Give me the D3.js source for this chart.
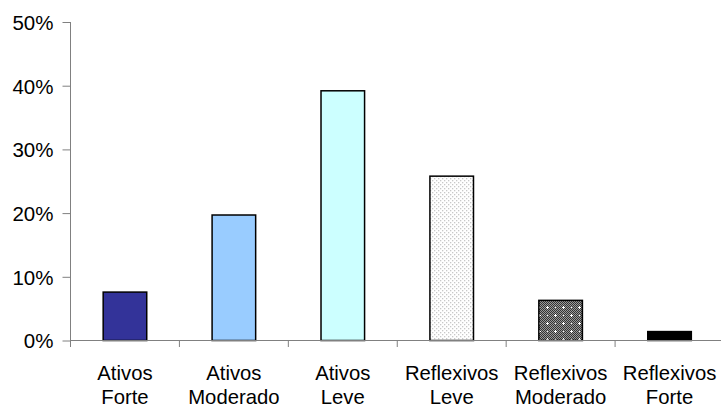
<!DOCTYPE html>
<html><head><meta charset="utf-8">
<script src="https://cdn.jsdelivr.net/npm/d3@7"></script>
<style>html,body{margin:0;padding:0;background:#fff;}svg{display:block;}</style>
</head><body>
<svg id="chart" width="721" height="409"></svg>
<script>
const categoriesLine1 = ["Ativos", "Ativos", "Ativos", "Reflexivos", "Reflexivos", "Reflexivos"];
const categoriesLine2 = ["Forte", "Moderado", "Leve", "Leve", "Moderado", "Forte"];
const values = [0.076, 0.197, 0.392, 0.258, 0.063, 0.014];
const yTicks = [0, 0.1, 0.2, 0.3, 0.4, 0.5];
const fills = ["#333399", "#99CCFF", "#CCFFFF", "url(#dots)", "url(#checker)", "#000000"];

const svg = d3.select("#chart");
const defs = svg.append("defs");
// light dotted pattern
const p1 = defs.append("pattern").attr("id", "dots").attr("patternUnits", "userSpaceOnUse")
  .attr("width", 4).attr("height", 4);
p1.append("rect").attr("width", 4).attr("height", 4).attr("fill", "#ffffff");
p1.append("rect").attr("x", 0).attr("y", 0).attr("width", 1.3).attr("height", 1.3).attr("fill", "#c8c8c8");
p1.append("rect").attr("x", 2).attr("y", 2).attr("width", 1.3).attr("height", 1.3).attr("fill", "#c8c8c8");
// dark checker pattern with white dots
const p2 = defs.append("pattern").attr("id", "checker").attr("patternUnits", "userSpaceOnUse")
  .attr("width", 16).attr("height", 16);
p2.append("rect").attr("width", 16).attr("height", 16).attr("fill", "#9a9a9a");
for (let i = 0; i < 16; i++) for (let j = 0; j < 16; j++) {
  if ((i + j) % 2 === 0) p2.append("rect").attr("x", i).attr("y", j).attr("width", 1).attr("height", 1).attr("fill", "#333");
}
[[3,3],[11,11]].forEach(([x,y])=>{
  p2.append("rect").attr("x", x-1).attr("y", y).attr("width", 3).attr("height", 1).attr("fill", "#fff");
  p2.append("rect").attr("x", x).attr("y", y-1).attr("width", 1).attr("height", 3).attr("fill", "#fff");
});
[[11,3],[3,11]].forEach(([x,y])=>{
  p2.append("rect").attr("x", x).attr("y", y).attr("width", 1).attr("height", 1).attr("fill", "#eee");
});

const x0 = 70.5, x1 = 724, yBottom = 340.5, yTop = 22;
const idx = d3.range(values.length);
const x = d3.scaleBand().domain(idx).range([x0, x1]).paddingInner(0.6).paddingOuter(0.3);
const y = d3.scaleLinear().domain([0, 0.5]).range([yBottom, yTop]);
const step = x.step();

// bars
svg.append("g").selectAll("rect").data(idx).join("rect")
  .attr("x", d => x(d))
  .attr("y", d => y(values[d]))
  .attr("width", x.bandwidth())
  .attr("height", d => yBottom - y(values[d]))
  .attr("fill", d => fills[d])
  .attr("stroke", "#000")
  .attr("stroke-width", 1.5);

// y axis
const yAxis = d3.axisLeft(y).tickValues(yTicks).tickFormat(d3.format(".0%")).tickSize(8).tickPadding(9);
const gy = svg.append("g").attr("transform", `translate(${x0},0)`).call(yAxis);
gy.select(".domain").attr("stroke", "#808080").attr("d", `M0,${yTop}V${yBottom + 6.5}`);
gy.selectAll(".tick line").attr("stroke", "#808080");
gy.selectAll(".tick text").attr("font-family", "Liberation Sans, Arial, sans-serif")
  .attr("font-size", "20.5px").attr("fill", "#000").attr("dy", "0.36em");

// x axis line
svg.append("line").attr("x1", x0).attr("x2", 721).attr("y1", yBottom).attr("y2", yBottom)
  .attr("stroke", "#808080").attr("stroke-width", 1);
// category tick marks at boundaries
svg.append("g").selectAll("line").data(d3.range(values.length + 1)).join("line")
  .attr("x1", d => x0 + d * step).attr("x2", d => x0 + d * step)
  .attr("y1", yBottom).attr("y2", yBottom + 6.5)
  .attr("stroke", "#808080");

// category labels
const lab = svg.append("g").attr("font-family", "Liberation Sans, Arial, sans-serif")
  .attr("font-size", "20.3px").attr("fill", "#000").attr("text-anchor", "middle");
lab.selectAll("text.l1").data(idx).join("text").attr("class", "l1")
  .attr("x", d => x(d) + x.bandwidth() / 2).attr("y", 379.5).text(d => categoriesLine1[d]);
lab.selectAll("text.l2").data(idx).join("text").attr("class", "l2")
  .attr("x", d => x(d) + x.bandwidth() / 2).attr("y", 403.5).text(d => categoriesLine2[d]);
</script>
</body></html>
